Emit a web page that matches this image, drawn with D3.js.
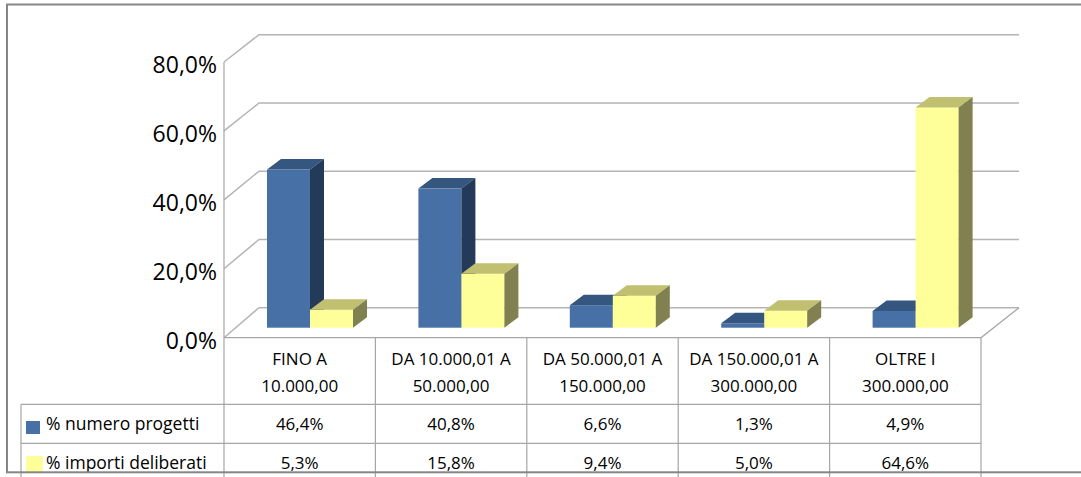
<!DOCTYPE html>
<html>
<head>
<meta charset="utf-8">
<script src="https://cdn.jsdelivr.net/npm/d3@7"></script>
<style>
  body { margin: 0; background: #fff; }
  text { font-family: "Open Sans", Lato, sans-serif; fill: #000; }
</style>
</head>
<body>
<script>
// data
var categories = [["FINO A", "10.000,00"], ["DA 10.000,01 A", "50.000,00"], ["DA 50.000,01 A", "150.000,00"],
                  ["DA 150.000,01 A", "300.000,00"], ["OLTRE I", "300.000,00"]];
var seriesNames = ["% numero progetti", "% importi deliberati"];
var numeroProgetti = [46.4, 40.8, 6.6, 1.3, 4.9];
var importiDeliberati = [5.3, 15.8, 9.4, 5.0, 64.6];
var yTicks = [0, 20, 40, 60, 80];

var width = 1081, height = 477;

var svg = d3.select("body").append("svg")
	.attr("width", width)
	.attr("height", height);

var fmt = function(v) { return d3.format(".1f")(v).replace(".", ",") + "%"; };

// scales: front edge of floor, back wall, and plane of the bars
var x = d3.scaleBand().domain(d3.range(categories.length)).range([224, 981]);
var yFront = d3.scaleLinear().domain([0, 80]).range([337.7, 62]);
var yBack = d3.scaleLinear().domain([0, 80]).range([307.7, 34.7]);
var yBar = d3.scaleLinear().domain([0, 80]).range([327.7, 55]);
var backX0 = 259, backX1 = 1019, frontX1 = 981;

// gridlines on side + back wall
svg.selectAll("polyline.grid")
	.data(yTicks)
	.enter()
	.append("polyline")
	.attr("fill", "none")
	.attr("stroke", "#b4b4b4")
	.attr("stroke-width", 1.5)
	.attr("points", function(d) {
		return [[224, yFront(d)], [backX0, yBack(d)], [backX1, yBack(d)]].join(" ");
	});

// floor right edge
svg.append("line")
	.attr("stroke", "#a0a0a0").attr("stroke-width", 1.2)
	.attr("x1", frontX1).attr("y1", yFront(0))
	.attr("x2", backX1).attr("y2", yBack(0));

// y axis labels
svg.selectAll("text.ylab")
	.data(yTicks)
	.enter()
	.append("text")
	.attr("x", 217)
	.attr("y", function(d) { return yFront(d) + 2; })
	.attr("text-anchor", "end")
	.attr("dominant-baseline", "central")
	.style("font-size", "23px")
	.text(fmt);

// bars
var barW = 43, depthX = 14, depthY = -10.5;
var colors = [
	{front: "#4771a6", top: "#34567f", side: "#243a59"},
	{front: "#ffff99", top: "#c0c070", side: "#808050"}
];
var barData = [];
categories.forEach(function(c, i) {
	[numeroProgetti[i], importiDeliberati[i]].forEach(function(v, s) {
		barData.push({cat: i, s: s, v: v});
	});
});

var bars = svg.selectAll("g.bar")
	.data(barData)
	.enter()
	.append("g");

bars.append("rect")
	.attr("x", function(d) { return x(d.cat) + 43 + d.s * barW; })
	.attr("y", function(d) { return yBar(d.v); })
	.attr("width", barW)
	.attr("height", function(d) { return yBar(0) - yBar(d.v); })
	.style("fill", function(d) { return colors[d.s].front; });

bars.append("polygon")
	.style("fill", function(d) { return colors[d.s].top; })
	.attr("points", function(d) {
		var x0 = x(d.cat) + 43 + d.s * barW, y0 = yBar(d.v);
		return [[x0, y0], [x0 + depthX, y0 + depthY], [x0 + barW + depthX, y0 + depthY], [x0 + barW, y0]].join(" ");
	});

bars.append("polygon")
	.style("fill", function(d) { return colors[d.s].side; })
	.attr("points", function(d) {
		var x1 = x(d.cat) + 43 + (d.s + 1) * barW, y0 = yBar(d.v), yb = yBar(0);
		return [[x1, y0], [x1 + depthX, y0 + depthY], [x1 + depthX, yb + depthY], [x1, yb]].join(" ");
	});

// data table
var rowY = [337.7, 404.3, 443.3, 482];
var lineColor = "#a6a6a6";

svg.selectAll("line.hrow")
	.data(rowY.slice(0, 3))
	.enter()
	.append("line")
	.attr("stroke", lineColor).attr("stroke-width", 1.2)
	.attr("x1", function(d, i) { return i == 0 ? 224 : 21; })
	.attr("x2", frontX1)
	.attr("y1", function(d) { return d; })
	.attr("y2", function(d) { return d; });

var colEdges = d3.range(categories.length + 1).map(function(i) {
	return i < categories.length ? x(i) : x(i - 1) + x.bandwidth();
});
svg.selectAll("line.vcol")
	.data(colEdges)
	.enter()
	.append("line")
	.attr("stroke", lineColor).attr("stroke-width", 1.2)
	.attr("x1", function(d) { return d; })
	.attr("x2", function(d) { return d; })
	.attr("y1", function(d, i) { return i == 0 ? yFront(80) : rowY[0]; })
	.attr("y2", height);

svg.append("line")
	.attr("stroke", lineColor).attr("stroke-width", 1.2)
	.attr("x1", 21).attr("x2", 21)
	.attr("y1", rowY[1]).attr("y2", height);

// category labels
categories.forEach(function(c, i) {
	c.forEach(function(line, j) {
		svg.append("text")
			.attr("x", x(i) + x.bandwidth() / 2)
			.attr("y", 365 + j * 26.5)
			.attr("text-anchor", "middle")
			.style("font-size", "17px")
			.text(line);
	});
});

// values
[numeroProgetti, importiDeliberati].forEach(function(series, s) {
	svg.selectAll("text.val" + s)
		.data(series)
		.enter()
		.append("text")
		.attr("x", function(d, i) { return x(i) + x.bandwidth() / 2; })
		.attr("y", s == 0 ? 430 : 469)
		.attr("text-anchor", "middle")
		.style("font-size", "17px")
		.text(fmt);

	svg.append("rect")
		.attr("x", 26)
		.attr("y", s == 0 ? 421 : 456)
		.attr("width", s == 0 ? 14 : 17)
		.attr("height", s == 0 ? 13 : 17)
		.style("fill", colors[s].front);

	svg.append("text")
		.attr("x", 46)
		.attr("y", s == 0 ? 430 : 469)
		.style("font-size", "17.5px")
		.text(seriesNames[s]);
});

// outer frame
svg.append("rect")
	.attr("x", 7).attr("y", 4.5)
	.attr("width", 1090).attr("height", 467.8)
	.attr("fill", "none")
	.attr("stroke", "#868686")
	.attr("stroke-width", 2);
</script>
</body>
</html>
